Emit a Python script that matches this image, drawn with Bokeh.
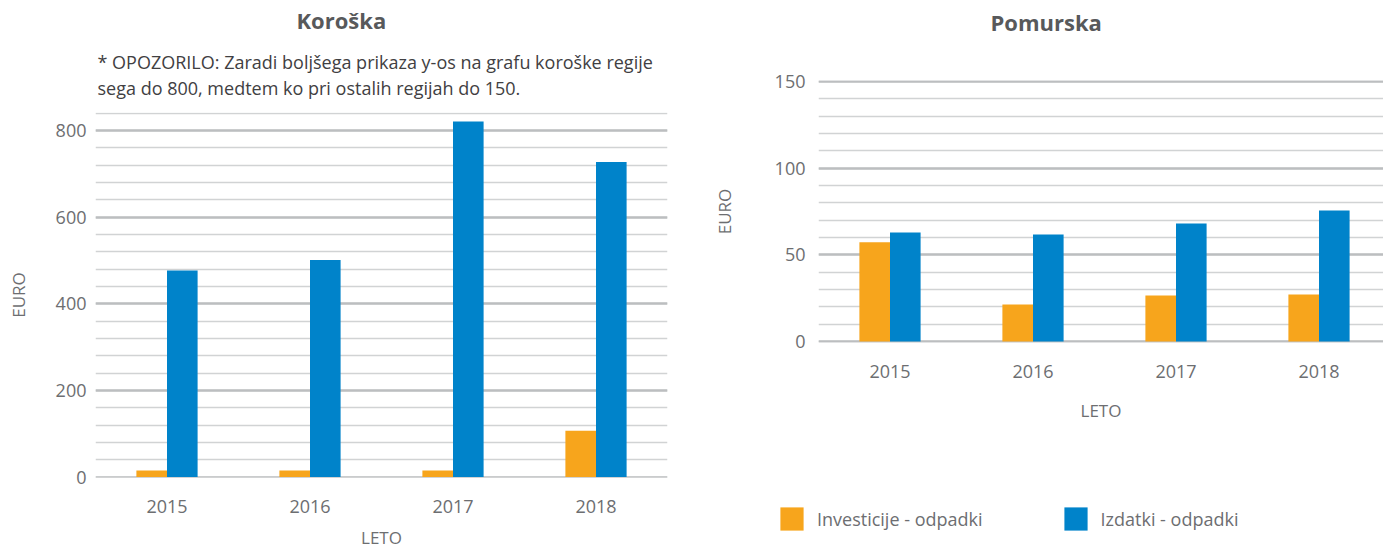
from bokeh.plotting import figure
from bokeh.layouts import row, column
from bokeh.models import (Title, Range1d, FixedTicker, Legend, LegendItem,
                          NumeralTickFormatter, ColumnDataSource)
from bokeh.transform import dodge
from bokeh.embed import file_html
from bokeh.resources import INLINE

# ---- data ----
years = [2015, 2016, 2017, 2018]
koroska_investicije = [15, 15, 15, 107]
koroska_izdatki = [477, 501, 821, 727]
pomurska_investicije = [57.3, 21.3, 26.5, 27.1]
pomurska_izdatki = [62.9, 61.7, 68.1, 75.6]
series_names = ["Investicije - odpadki", "Izdatki - odpadki"]
koroska_ticks = [0, 200, 400, 600, 800]
pomurska_ticks = [0, 50, 100, 150]
note_lines = ["* OPOZORILO: Zaradi boljšega prikaza y-os na grafu koroške regije",
              "sega do 800, medtem ko pri ostalih regijah do 150."]

ORANGE = "#f7a51c"
BLUE = "#0083ca"
TXT = "#6d6e71"
FONT = "Open Sans"
BAR_W = 0.214


def style(p, ticks, minor, tick_std, lbl_std, ylbl_std, xlabel_std):
    p.xgrid.grid_line_color = None
    p.ygrid.grid_line_color = "#bcbec0"
    p.ygrid.grid_line_width = 2.5
    p.ygrid.minor_grid_line_color = "#d1d3d4"
    p.ygrid.minor_grid_line_width = 1.5
    p.yaxis.ticker = FixedTicker(ticks=ticks, minor_ticks=minor)
    p.xaxis.ticker = FixedTicker(ticks=years)
    p.xaxis.formatter = NumeralTickFormatter(format="0")
    for ax in (p.xaxis, p.yaxis):
        ax.axis_line_color = None
        ax.major_tick_line_color = None
        ax.minor_tick_line_color = None
        ax.major_tick_out = 0
        ax.major_tick_in = 0
        ax.minor_tick_out = 0
        ax.minor_tick_in = 0
        ax.major_label_text_font = FONT
        ax.major_label_text_font_size = "18px"
        ax.major_label_text_color = TXT
        ax.axis_label_text_font = FONT
        ax.axis_label_text_font_size = "17px"
        ax.axis_label_text_font_style = "normal"
        ax.axis_label_text_color = TXT
    p.xaxis.axis_label = "LETO"
    p.yaxis.axis_label = "EURO"
    p.xaxis.major_label_standoff = tick_std
    p.xaxis.axis_label_standoff = xlabel_std
    p.yaxis.major_label_standoff = lbl_std
    p.yaxis.axis_label_standoff = ylbl_std
    p.outline_line_color = None
    p.background_fill_color = "white"
    p.border_fill_color = "white"


# ---- left: Koroška ----
src_k = ColumnDataSource(dict(year=years, inv=koroska_investicije, izd=koroska_izdatki))
pk = figure(width=707, height=556, output_backend="svg", toolbar_location=None,
            x_range=Range1d(2014.5, 2018.5), y_range=Range1d(-1.15, 841.5),
            min_border_left=95, min_border_right=40, min_border_top=112,
            min_border_bottom=79, title=None)
pk.vbar(x=dodge("year", -BAR_W / 2, range=pk.x_range), top="inv", width=BAR_W,
        source=src_k, color=ORANGE, line_color=None)
pk.vbar(x=dodge("year", BAR_W / 2, range=pk.x_range), top="izd", width=BAR_W,
        source=src_k, color=BLUE, line_color=None)
style(pk, koroska_ticks, list(range(0, 841, 40)), 22, 9, 23, 10)

pk.add_layout(Title(text="\n".join(note_lines), align="left", offset=2, text_font=FONT,
                    text_font_size="18px", text_font_style="normal", text_color="#414042",
                    text_line_height=1.1, vertical_align="bottom", standoff=24), "above")
pk.add_layout(Title(text="Koroška", align="left", offset=201, text_font=FONT,
                    text_font_size="22px", text_font_style="bold", text_color="#58595b",
                    vertical_align="bottom", standoff=4), "above")

# ---- right: Pomurska ----
src_p = ColumnDataSource(dict(year=years, inv=pomurska_investicije, izd=pomurska_izdatki))
pp = figure(width=676, height=440, output_backend="svg", toolbar_location=None,
            x_range=Range1d(2014.5, 2014.5 + 565 / 143.0), y_range=Range1d(-0.577, 150.577),
            min_border_left=111, min_border_right=0, min_border_top=80,
            min_border_bottom=98, title=None)
pp.vbar(x=dodge("year", -BAR_W / 2, range=pp.x_range), top="inv", width=BAR_W,
        source=src_p, color=ORANGE, line_color=None)
pp.vbar(x=dodge("year", BAR_W / 2, range=pp.x_range), top="izd", width=BAR_W,
        source=src_p, color=BLUE, line_color=None)
style(pp, pomurska_ticks, list(range(0, 151, 10)), 22, 13, 36, 18)
pp.add_layout(Title(text=" ", text_font=FONT, text_font_size="18px",
                    vertical_align="bottom", standoff=18), "above")
pp.add_layout(Title(text="Pomurska", align="left", offset=172, text_font=FONT,
                    text_font_size="22px", text_font_style="bold", text_color="#58595b",
                    vertical_align="bottom", standoff=0), "above")

# ---- legend strip under the right chart (same series, plotted out of view) ----
pl = figure(width=676, height=116, output_backend="svg", toolbar_location=None,
            x_range=Range1d(0, 1), y_range=Range1d(0, 1),
            x_axis_location=None, y_axis_location=None,
            min_border_left=0, min_border_right=0, min_border_top=0, min_border_bottom=0)
pl.grid.visible = False
pl.outline_line_color = None
l1 = pl.vbar(x="year", top="inv", width=BAR_W, source=src_p, color=ORANGE, line_color=None)
l2 = pl.vbar(x="year", top="izd", width=BAR_W, source=src_p, color=BLUE, line_color=None)
legend = Legend(items=[LegendItem(label=series_names[0], renderers=[l1]),
                       LegendItem(label=series_names[1], renderers=[l2])],
                orientation="horizontal", location=(70, 23),
                glyph_width=29, glyph_height=29, label_standoff=11, spacing=78,
                padding=0, margin=0, border_line_color=None, background_fill_alpha=0,
                label_text_font=FONT, label_text_font_size="18px", label_text_color=TXT)
pl.add_layout(legend, "center")

layout = row(column(pk), column(column(pp), column(pl), spacing=0), spacing=0)
open("out.html", "w").write(file_html(layout, INLINE))
